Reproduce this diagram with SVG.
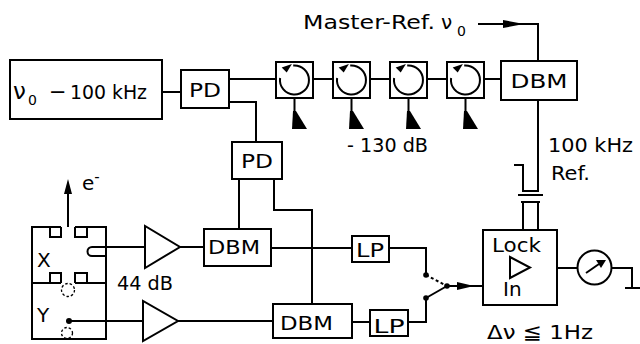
<svg xmlns="http://www.w3.org/2000/svg" width="640" height="344" viewBox="0 0 640 344">
<style>
.ln{fill:none;stroke:#000;stroke-width:2}
.bx{fill:#fff;stroke:#000;stroke-width:2}
.fl{fill:#000;stroke:none}
.dsh{fill:none;stroke:#000;stroke-width:1.3;stroke-dasharray:2.5 2}
.t{font-family:"DejaVu Sans","Liberation Sans",Arial,sans-serif;font-size:20px;fill:#000}
.m{text-anchor:middle}
</style>
<defs>
<g id="circ">
<rect class="bx" x="-18.5" y="-18" width="37" height="36"/>
<path class="ln" d="M-1.3,-14.4 A14.5,14.5 0 1 1 -14.4,-2"/>
<polygon class="fl" points="-12.8,-12.6 -7.8,-7.6 -2.6,-16"/>
<path class="ln" d="M0,18 V32"/>
<polygon class="fl" points="-1.5,31 1.5,31 12.5,49 -2.5,49"/>
</g>
</defs>

<g id="connectors">
<path class="ln" d="M162,92 H181"/>
<path class="ln" d="M229,79 H276 M313,79 H333 M370,79 H390 M427,79 H447 M484,79 H501"/>
<path class="ln" d="M229,102 H256 V142"/>
<path class="ln" d="M478,24 H538 V61"/>
<polygon class="fl" points="503,20 524,24 503,28"/>
<path class="ln" d="M538,100 V192"/>
<path class="ln" d="M239,179 V229"/>
<path class="ln" d="M274,179 V210 H312 V304"/>
<path class="ln" d="M106,247 H145"/>
<path class="ln" d="M180,247 H204"/>
<path class="ln" d="M271,248 H352"/>
<path class="ln" d="M69,321 H143"/>
<path class="ln" d="M178,321 H273"/>
<path class="ln" d="M352,322 H370"/>
<path class="ln" d="M389,248 H426 V275"/>
<path class="ln" d="M408,322 H426 V298"/>
<path class="ln" d="M447,286 H483"/>
<polygon class="fl" points="457,282 474,286 457,290"/>
<path class="ln" d="M557,268 H577"/>
<path class="ln" d="M612,268 H632 V288 M625,288 H640"/>
</g>

<g id="oscillator">
<rect class="bx" x="10" y="60" width="152" height="59"/>
<text class="t" x="13" y="99"><tspan font-size="23">ν</tspan><tspan x="28" dy="6" font-size="14">0</tspan><tspan x="49" dy="-6" font-size="21">−</tspan><tspan x="70" textLength="77" lengthAdjust="spacingAndGlyphs">100 kHz</tspan></text>
</g>

<g id="pd1">
<rect class="bx" x="181" y="70" width="48" height="38"/>
<text class="t m" x="205" y="97" font-size="22" textLength="32" lengthAdjust="spacingAndGlyphs">PD</text>
</g>

<g id="pd2">
<rect class="bx" x="232" y="142" width="50" height="37"/>
<text class="t m" x="257" y="168" font-size="22" textLength="32" lengthAdjust="spacingAndGlyphs">PD</text>
</g>

<g id="circulator1"><use href="#circ" x="294.5" y="80"/></g>
<g id="circulator2"><use href="#circ" x="351.5" y="80"/></g>
<g id="circulator3"><use href="#circ" x="408.5" y="80"/></g>
<g id="circulator4"><use href="#circ" x="465.5" y="80"/></g>

<g id="dbm-top">
<rect class="bx" x="501" y="61" width="76" height="39"/>
<text class="t m" x="539" y="88" font-size="23" textLength="57" lengthAdjust="spacingAndGlyphs">DBM</text>
</g>

<g id="master-ref-label">
<text class="t" x="303" y="29" font-size="19"><tspan textLength="132" lengthAdjust="spacingAndGlyphs">Master-Ref.</tspan><tspan x="441" font-size="20">ν</tspan><tspan x="457" dy="7" font-size="14">0</tspan></text>
</g>

<g id="attenuation-label">
<text class="t" x="347" y="152" textLength="81" lengthAdjust="spacingAndGlyphs">- 130 dB</text>
</g>

<g id="ref-label">
<text class="t" x="548" y="152" textLength="85" lengthAdjust="spacingAndGlyphs">100 kHz</text>
<text class="t" x="551" y="180" textLength="39" lengthAdjust="spacingAndGlyphs">Ref.</text>
</g>

<g id="ref-connector">
<path class="ln" d="M514,165 H523 V191 H539"/>
<path class="ln" stroke-width="3.5" d="M523,191 H539"/>
<path class="ln" d="M518,195 H543"/>
<path class="ln" stroke-width="5" d="M521,202 H540"/>
<path class="ln" d="M523,202 V230 M538,202 V230"/>
</g>

<g id="detector">
<path class="ln" d="M61,227 H32 V339 H106 V227 H75"/>
<path class="ln" d="M50,227 V237 H61 V227 M75,227 V237 H87 V227"/>
<path class="ln" d="M32,283 H61 M75,283 H106"/>
<path class="ln" d="M50,283 V273 H61 V283 M75,283 V273 H87 V283"/>
<path class="ln" d="M106,247 H92 A4.5,4.5 0 0 0 92,256 H106"/>
<circle class="dsh" cx="68" cy="290" r="6.5"/>
<circle class="dsh" cx="67" cy="333" r="5.5"/>
<circle class="fl" cx="69" cy="321" r="3"/>
<path class="ln" d="M68,227 V190"/>
<polygon class="fl" points="64,194 68,179 72,194"/>
<text class="t" x="37" y="267" font-size="21">X</text>
<text class="t" x="37" y="322" font-size="22">Y</text>
<text class="t" x="82" y="190" font-size="20">e<tspan dy="-8" font-size="15">-</tspan></text>
</g>

<g id="amp1">
<polygon class="bx" points="145,226 145,268 180,247"/>
</g>
<g id="amp2">
<polygon class="bx" points="143,301 143,341 178,321"/>
</g>
<g id="gain-label">
<text class="t" x="117" y="290" font-size="21" textLength="56" lengthAdjust="spacingAndGlyphs">44 dB</text>
</g>

<g id="dbm1">
<rect class="bx" x="204" y="229" width="67" height="37"/>
<text class="t" x="208" y="254" font-size="24" textLength="52" lengthAdjust="spacingAndGlyphs">DBM</text>
</g>

<g id="dbm2">
<rect class="bx" x="273" y="304" width="79" height="34"/>
<text class="t" x="280" y="330" font-size="24" textLength="53" lengthAdjust="spacingAndGlyphs">DBM</text>
</g>

<g id="lp1">
<rect class="bx" x="352" y="236" width="37" height="26"/>
<text class="t m" x="370" y="257" font-size="24" textLength="28" lengthAdjust="spacingAndGlyphs">LP</text>
</g>

<g id="lp2">
<rect class="bx" x="370" y="310" width="38" height="26"/>
<text class="t m" x="389" y="333" font-size="25" textLength="31" lengthAdjust="spacingAndGlyphs">LP</text>
</g>

<g id="switch">
<circle class="fl" cx="426" cy="275" r="2.8"/>
<circle class="fl" cx="426" cy="298" r="2.8"/>
<circle class="fl" cx="447" cy="286" r="2.8"/>
<path class="ln" stroke-dasharray="3 2.5" d="M426,275 L447,286"/>
<path class="ln" d="M426,298 L447,286"/>
</g>

<g id="lock-in">
<rect class="bx" x="483" y="230" width="74" height="75"/>
<text class="t" x="492" y="252" font-size="21" textLength="49" lengthAdjust="spacingAndGlyphs">Lock</text>
<polygon class="ln" points="510,257 510,278 530,267.5"/>
<text class="t" x="503" y="296" font-size="22">In</text>
</g>

<g id="meter">
<circle class="bx" cx="594.5" cy="267.5" r="17"/>
<path class="ln" stroke-width="2.5" d="M586,273 L599,264"/>
<polygon class="fl" points="596,260 606,260 601,268"/>
</g>

<g id="bandwidth-label">
<text class="t" x="487" y="339" font-size="21" textLength="106" lengthAdjust="spacingAndGlyphs">Δν ≦ 1Hz</text>
</g>
</svg>
